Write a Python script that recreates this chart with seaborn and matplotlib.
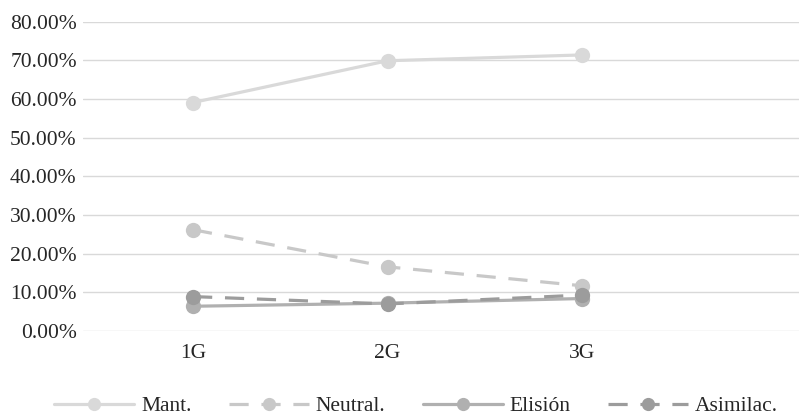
import matplotlib
matplotlib.use("Agg")
import matplotlib.pyplot as plt
import seaborn as sns
import pandas as pd
from matplotlib.ticker import PercentFormatter

categories = ["1G", "2G", "3G"]
series_names = ["Mant.", "Neutral.", "Elisión", "Asimilac."]
mant = [0.591, 0.699, 0.714]
neutral = [0.262, 0.166, 0.117]
elision = [0.064, 0.072, 0.084]
asimilac = [0.089, 0.070, 0.093]
y_ticks = [0.0, 0.1, 0.2, 0.3, 0.4, 0.5, 0.6, 0.7, 0.8]

sns.set_theme(style="white")
plt.rcParams["font.family"] = ["Liberation Serif", "DejaVu Serif"]

rows = []
for name, vals in zip(series_names, [mant, neutral, elision, asimilac]):
    for c, v in zip(categories, vals):
        rows.append({"gen": c, "serie": name, "val": v})
df = pd.DataFrame(rows)

palette = {"Mant.": "#d9d9d9", "Neutral.": "#c8c8c8", "Elisión": "#b0b0b0", "Asimilac.": "#9c9c9c"}
dashes = {"Mant.": "", "Neutral.": (6, 4), "Elisión": "", "Asimilac.": (6, 4)}

fig = plt.figure(figsize=(7.99, 4.16), dpi=100)
ax = fig.add_axes([83/799, 1-331/416, 1-83/799, (331-21.7)/416])

for y in y_ticks:
    ax.axhline(y, color="#d9d9d9", lw=1.0, zorder=0)

sns.lineplot(data=df, x="gen", y="val", hue="serie", style="serie",
             palette=palette, dashes=dashes, markers={k: "o" for k in series_names},
             hue_order=series_names, style_order=series_names,
             linewidth=2.3, markersize=11, markeredgewidth=0, ax=ax, sort=False,
             clip_on=False, legend=True)

ax.set_ylim(0, 0.8)
ax.set_xlim(-0.566, 3.116)
ax.set_yticks(y_ticks)
ax.yaxis.set_major_formatter(PercentFormatter(1.0, decimals=2))
ax.set_xlabel("")
ax.set_ylabel("")
for s in ax.spines.values():
    s.set_visible(False)
ax.tick_params(axis="both", length=0, labelsize=15.5, colors="#262626")
ax.tick_params(axis="y", pad=4.5)
ax.tick_params(axis="x", pad=9)

handles, labels = ax.get_legend_handles_labels()
for h in handles:
    h.set_markersize(9.5)
ax.legend(handles, labels, loc="center", bbox_to_anchor=(416/799, 1-406/416),
          bbox_transform=fig.transFigure, ncol=4, frameon=False,
          fontsize=15.5, handlelength=3.72, handletextpad=0.33, columnspacing=1.72,
          labelcolor="#262626")

fig.savefig("out.png", dpi=100)
